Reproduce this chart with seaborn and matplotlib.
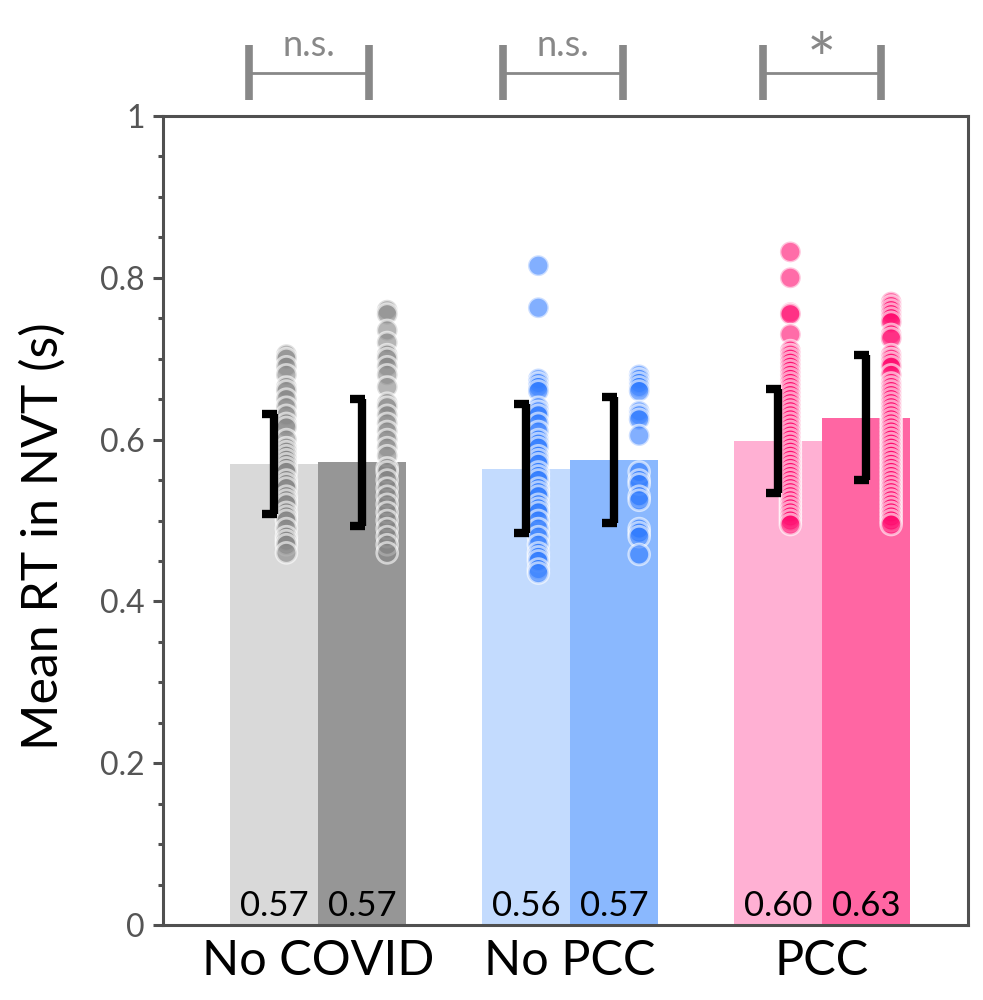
import numpy as np
import pandas as pd
import matplotlib
matplotlib.use("Agg")
import matplotlib.pyplot as plt
import seaborn as sns

# ---------------- data ----------------
groups = ["No COVID", "No PCC", "PCC"]
conditions = ["A", "B"]

means_nocovid = [0.570, 0.572]
means_nopcc = [0.564, 0.575]
means_pcc = [0.598, 0.627]

sd_nocovid = [0.0615, 0.0785]
sd_nopcc = [0.080, 0.078]
sd_pcc = [0.0645, 0.0775]

value_labels_nocovid = ["0.57", "0.57"]
value_labels_nopcc = ["0.56", "0.57"]
value_labels_pcc = ["0.60", "0.63"]

pts_nocovid_a = [0.705, 0.70, 0.69, 0.68, 0.665, 0.66, 0.65, 0.64, 0.63, 0.62, 0.615,
                 0.60, 0.59, 0.585, 0.58, 0.575, 0.57, 0.565, 0.56, 0.55, 0.545, 0.54,
                 0.53, 0.525, 0.52, 0.51, 0.505, 0.50, 0.49, 0.48, 0.475, 0.47, 0.46]
pts_nocovid_b = [0.76, 0.755, 0.735, 0.72, 0.705, 0.70, 0.69, 0.68, 0.665, 0.645, 0.64,
                 0.63, 0.62, 0.61, 0.60, 0.59, 0.58, 0.565, 0.56, 0.55, 0.54, 0.53,
                 0.52, 0.51, 0.50, 0.49, 0.48, 0.47, 0.46]
pts_nopcc_a = [0.815, 0.763, 0.675, 0.67, 0.665, 0.66, 0.64, 0.635, 0.63, 0.62, 0.61,
               0.60, 0.595, 0.59, 0.58, 0.575, 0.57, 0.56, 0.555, 0.55, 0.54, 0.535,
               0.53, 0.52, 0.515, 0.51, 0.50, 0.49, 0.48, 0.47, 0.46, 0.455, 0.45,
               0.44, 0.435]
pts_nopcc_b = [0.68, 0.675, 0.67, 0.665, 0.66, 0.635, 0.63, 0.625, 0.605, 0.56, 0.55,
               0.545, 0.53, 0.525, 0.49, 0.485, 0.48, 0.458]
pts_pcc_a = [0.832, 0.80, 0.757, 0.755, 0.73, 0.71, 0.705, 0.70, 0.695, 0.69, 0.685,
             0.68, 0.675, 0.67, 0.665, 0.66, 0.655, 0.65, 0.645, 0.64, 0.635, 0.63,
             0.625, 0.62, 0.615, 0.61, 0.605, 0.60, 0.595, 0.59, 0.585, 0.58, 0.575,
             0.57, 0.565, 0.56, 0.555, 0.55, 0.545, 0.54, 0.535, 0.53, 0.525, 0.52,
             0.515, 0.51, 0.505, 0.50, 0.495]
pts_pcc_b = [0.77, 0.765, 0.76, 0.755, 0.75, 0.745, 0.73, 0.725, 0.705, 0.70, 0.695,
             0.69, 0.68, 0.67, 0.665, 0.66, 0.655, 0.65, 0.645, 0.64, 0.635, 0.63,
             0.625, 0.62, 0.615, 0.61, 0.605, 0.60, 0.595, 0.59, 0.585, 0.58, 0.575,
             0.57, 0.565, 0.56, 0.555, 0.55, 0.545, 0.54, 0.535, 0.53, 0.525, 0.52,
             0.515, 0.51, 0.505, 0.50, 0.495]

significance = ["n.s.", "n.s.", "*"]
bracket_left = [-0.274, -0.266, -0.236]
bracket_right = [0.202, 0.21, 0.232]

yticks = [0, 0.2, 0.4, 0.6, 0.8, 1]
ytick_labels = ["0", "0.2", "0.4", "0.6", "0.8", "1"]

bar_colors = {"No COVID": ["#d9d9d9", "#969696"],
              "No PCC": ["#c3dbfe", "#8ab8fe"],
              "PCC": ["#ffb0d3", "#ff66a3"]}
dot_colors = {"No COVID": "#858585", "No PCC": "#2f7bff", "PCC": "#ff0a6e"}

means = {"No COVID": means_nocovid, "No PCC": means_nopcc, "PCC": means_pcc}
sds = {"No COVID": sd_nocovid, "No PCC": sd_nopcc, "PCC": sd_pcc}
vlabels = {"No COVID": value_labels_nocovid, "No PCC": value_labels_nopcc,
           "PCC": value_labels_pcc}
points = {"No COVID": [pts_nocovid_a, pts_nocovid_b],
          "No PCC": [pts_nopcc_a, pts_nopcc_b],
          "PCC": [pts_pcc_a, pts_pcc_b]}

# ---------------- style ----------------
sns.set_style("white")
plt.rcParams["font.family"] = ["Lato", "DejaVu Sans"]

fig = plt.figure(figsize=(9.83, 10), dpi=100)
ax = fig.add_axes([0.166, 0.075, 0.819, 0.809])

width = 0.7
half = width / 2
dot_shift = 0.074

for gi, g in enumerate(groups):
    bar_df = pd.DataFrame({"group": [g, g], "cond": conditions, "mean": means[g]})
    n_before = len(ax.patches)
    sns.barplot(data=bar_df, x="group", y="mean", hue="cond", order=groups,
                hue_order=conditions, palette=bar_colors[g], width=width,
                errorbar=None, legend=False, ax=ax, saturation=1)
    for p in ax.patches[n_before:]:
        p.set_edgecolor("none")

    rows = []
    for ci, c in enumerate(conditions):
        for v in points[g][ci]:
            rows.append({"group": g, "cond": c, "rt": v})
    pts_df = pd.DataFrame(rows)
    n_coll = len(ax.collections)
    sns.stripplot(data=pts_df, x="group", y="rt", hue="cond", order=groups,
                  hue_order=conditions, palette=[dot_colors[g], dot_colors[g]],
                  dodge=True, jitter=False, size=15, alpha=0.6,
                  edgecolor="white", linewidth=2.0, legend=False, ax=ax, zorder=3)
    for coll in ax.collections[n_coll:]:
        off = coll.get_offsets()
        if len(off):
            off[:, 0] = off[:, 0] + dot_shift
            coll.set_offsets(off)

    # error bars ("]" shape) and value labels
    for ci in range(2):
        xc = gi - half / 2 + ci * half
        m = means[g][ci]
        s = sds[g][ci]
        ax.vlines(xc, m - s, m + s, color="black", lw=6, zorder=4)
        ax.hlines([m - s, m + s], xc - 0.047, xc + 0.012, color="black", lw=6,
                  zorder=4)
        ax.text(xc, 0.004, vlabels[g][ci], ha="center", va="bottom",
                fontsize=25, color="black", zorder=5)

    # significance bracket above the axes
    xl, xr = gi + bracket_left[gi], gi + bracket_right[gi]
    ax.plot([xl, xr], [1.053, 1.053], color="#888888", lw=2, clip_on=False,
            solid_capstyle="butt")
    ax.vlines([xl, xr], 1.02, 1.088, color="#888888", lw=5.5, clip_on=False)
    if significance[gi] == "*":
        ax.text((xl + xr) / 2, 1.025, significance[gi], ha="center", va="bottom",
                fontsize=50, color="#888888", clip_on=False)
    else:
        ax.text((xl + xr) / 2, 1.067, significance[gi], ha="center", va="bottom",
                fontsize=26, color="#888888", clip_on=False)

ax.set_xlim(-0.615, 2.58)
ax.set_ylim(0, 1)
ax.set_yticks(yticks)
ax.set_yticklabels(ytick_labels)
ax.set_yticks(np.arange(0.05, 1.0, 0.05), minor=True)
ax.tick_params(axis="y", which="major", length=7, width=2.2, color="#505050",
               labelsize=23, labelcolor="#555555", pad=6, left=True, direction="out")
ax.tick_params(axis="y", which="minor", length=3.5, width=2.2, color="#505050",
               left=True, direction="out")
ax.tick_params(axis="x", length=0, labelsize=35, labelcolor="black", pad=10)
ax.set_xlabel("")
ax.set_ylabel("Mean RT in NVT (s)", fontsize=36, color="black")
ax.yaxis.set_label_coords(-0.12, 0.48)
for sp in ax.spines.values():
    sp.set_visible(True)
    sp.set_color("#505050")
    sp.set_linewidth(2.2)

fig.savefig("out.png", dpi=100)
